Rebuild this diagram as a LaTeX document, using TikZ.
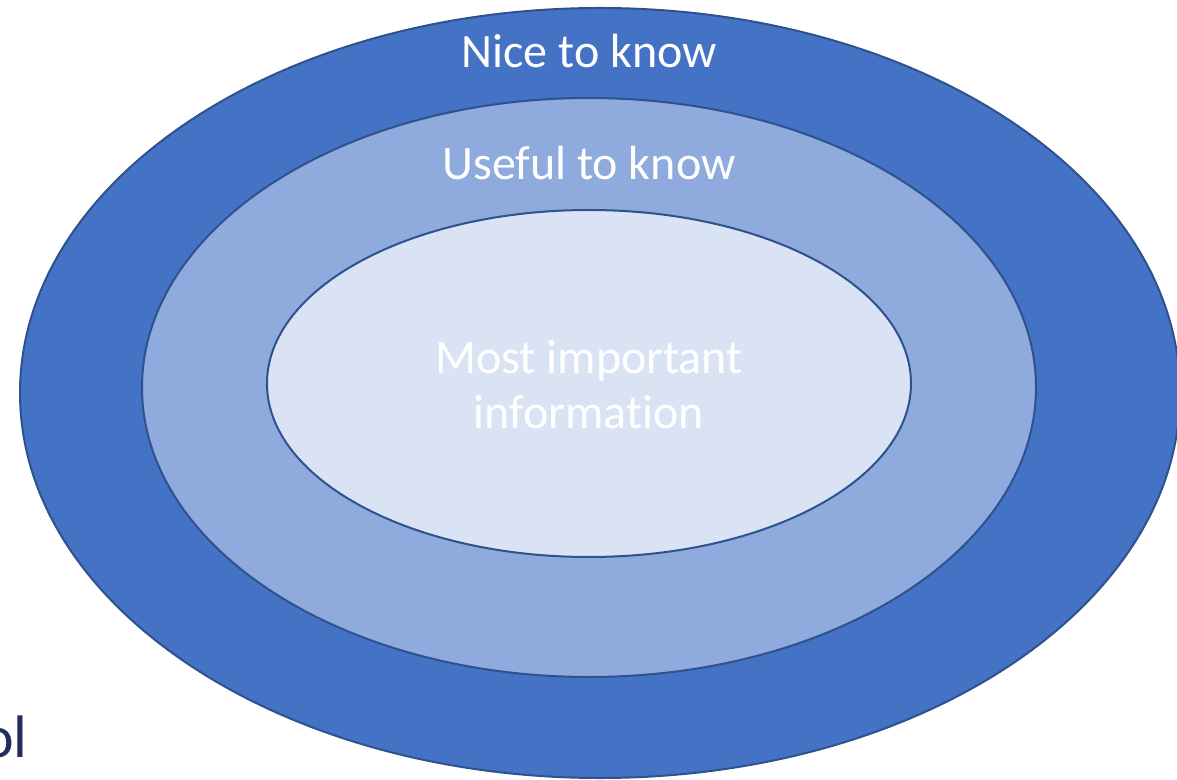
\documentclass[tikz,border=0pt]{standalone}
\usepackage{fontspec}
\setmainfont{Carlito}[Ligatures=NoCommon]
\usetikzlibrary{shapes.geometric}

\definecolor{darkblue}{HTML}{4472C4}
\definecolor{midblue}{HTML}{8FAADC}
\definecolor{paleblue}{HTML}{DAE3F3}
\definecolor{rimblue}{HTML}{2F528F}
\definecolor{navy}{HTML}{1F2D5F}

\tikzset{
  ring/.style={draw=rimblue,line width=1pt,ellipse,inner sep=0pt},
  ringlabel/.style={text=white,anchor=base,inner sep=0pt,font=\fontsize{24}{27.5}\selectfont}
}

\begin{document}
\begin{tikzpicture}[x=0.5pt,y=-0.5pt]
\useasboundingbox (0,0) rectangle (1177,780);

% the three nested rings
\node[ring,fill=darkblue,minimum width=580pt,minimum height=385pt] (nice) at (600,393) {};
\node[ring,fill=midblue,minimum width=447pt,minimum height=289.5pt] (useful) at (589,387.5) {};
\node[ring,fill=paleblue,minimum width=322pt,minimum height=173.5pt] (core) at (589,383.5) {};

% labels
\node[ringlabel] (nicetext) at (589,68) {Nice to know};
\node[ringlabel] (usefultext) at (589,180) {Useful to know};
\node[ringlabel,align=center] (coretext) at (589,428) {Most important\\information};

% cut-off word in the corner
\node[text=navy,anchor=base east,inner sep=0pt,font=\fontsize{30}{36}\selectfont] (cornertext) at (28,757) {ol};

\end{tikzpicture}
\end{document}
